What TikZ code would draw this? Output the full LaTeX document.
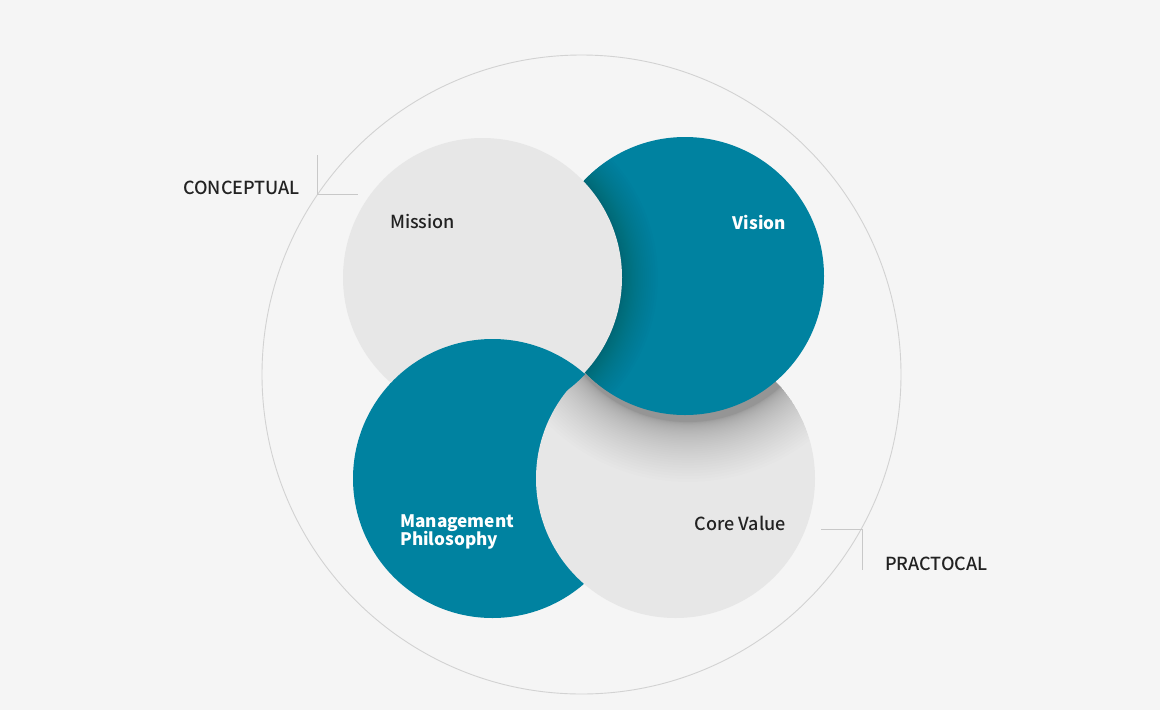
\documentclass[tikz,border=0pt]{standalone}
\usepackage{fontspec}
\usetikzlibrary{calc}
\setmainfont{Noto Sans CJK KR}
\newfontfamily\medfont{Noto Sans CJK KR Medium}
\definecolor{bgcol}{HTML}{F5F5F5}
\definecolor{teal}{HTML}{0082A0}
\definecolor{petal}{HTML}{E7E7E7}
\definecolor{ringcol}{HTML}{D2D2D2}
\definecolor{tickcol}{HTML}{C8C8C8}
\definecolor{ink}{HTML}{222222}
\tikzset{
  darkpetal/.style={fill=teal},
  lightpetal/.style={fill=petal},
  darklabel/.style={text=ink, font=\medfont\fontsize{18}{18}\selectfont, inner sep=0pt},
  lightlabel/.style={text=white, font=\bfseries\fontsize{17.2}{18}\selectfont, inner sep=0pt, align=left},
  sidelabel/.style={text=ink, font=\medfont\fontsize{18}{18}\selectfont, inner sep=0pt},
  tick/.style={draw=tickcol, line width=0.8pt},
}
\begin{document}
\begin{tikzpicture}[x=1pt,y=-1pt]
  % canvas
  \fill[bgcol] (0,0) rectangle (1160,710);
  \useasboundingbox (0,0) rectangle (1160,710);

  % outer ring
  \draw[ringcol, line width=0.9pt] (581.5,374.5) circle[radius=319.5pt];

  % centres of the four petals
  \coordinate (cm) at (482.5,277.5);
  \coordinate (cv) at (685,276);
  \coordinate (cp) at (492.5,478.5);
  \coordinate (cc) at (675.5,478.5);

  % side labels with their corner ticks
  \coordinate (t1a) at (317,155);
  \coordinate (t1b) at (317,194);
  \coordinate (t1c) at (358,194);
  \draw[tick] (t1a) -- (t1b) -- (t1c);
  \node[sidelabel, anchor=east] (conc) at (300,188) {CONCEPTUAL};

  \coordinate (t2a) at (821,529);
  \coordinate (t2b) at (862,529);
  \coordinate (t2c) at (862,570);
  \draw[tick] (t2a) -- (t2b) -- (t2c);
  \node[sidelabel, anchor=west] (prac) at (885,564) {PRACTOCAL};

  % Management Philosophy petal
  \fill[darkpetal] (cp) circle[radius=139.5pt];

  % Core Value petal with the soft shadow cast by Vision
  \fill[lightpetal] (cc) circle[radius=139.5pt];
  \begin{scope}
    \clip (cc) circle[radius=139.5pt];
    \foreach \k in {0,...,40}{
      \fill[black, fill opacity=0.0075] ($(cv)+(3,7)$) circle[radius={139pt+60pt*(\k/40)*(\k/40)}];
    }
  \end{scope}

  % Vision petal with the soft shadow cast by Mission
  \fill[darkpetal] (cv) circle[radius=139pt];
  \begin{scope}
    \clip (cv) circle[radius=139pt];
    \foreach \k in {0,...,30}{
      \fill[black, fill opacity=0.009] (cm) circle[radius={139.5pt+36pt*(\k/30)*(\k/30)}];
    }
  \end{scope}

  % Mission petal
  \fill[lightpetal] (cm) circle[radius=139.5pt];

  % Management lies over Mission where the two meet
  \begin{scope}
    \clip (cm) circle[radius=141pt];
    \fill[darkpetal] (cp) circle[radius=139.5pt];
  \end{scope}

  % petal titles
  \node[darklabel, anchor=west] (mission) at (390,222) {Mission};
  \node[lightlabel, anchor=east] (vision) at (786,222) {Vision};
  \node[lightlabel, anchor=west] (mgmt) at (400,532) {Management\\[-0.5pt]Philosophy};
  \node[darklabel, anchor=east] (core) at (786,523) {Core Value};
\end{tikzpicture}
\end{document}
